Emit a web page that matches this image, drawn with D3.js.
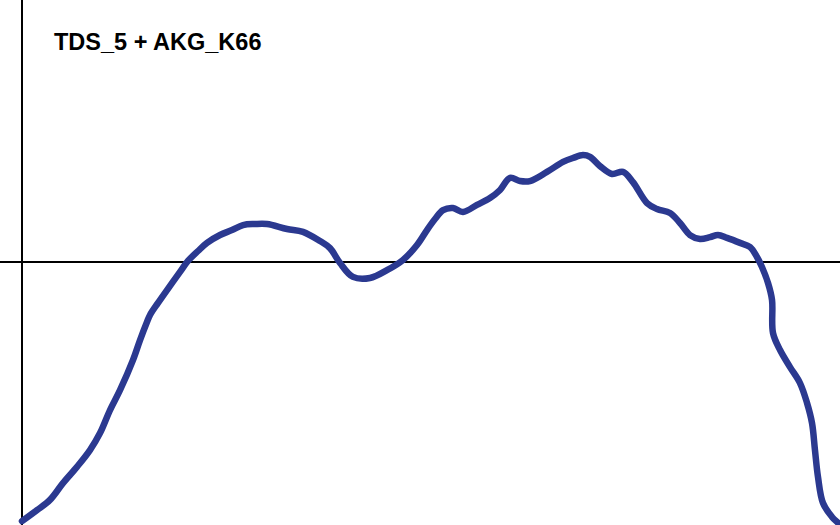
<!DOCTYPE html>
<html>
<head>
<meta charset="utf-8">
<script src="https://cdn.jsdelivr.net/npm/d3@7"></script>
<style>
  html, body { margin: 0; padding: 0; background: #fff; }
  svg { display: block; }
</style>
</head>
<body>
<svg id="chart" width="840" height="525"></svg>
<script>
// chart title
var title = "TDS_5 + AKG_K66";

// x position (percent of span)
var xs = [0, 1.83, 3.42, 5.01, 6.72, 8.31, 9.54, 10.76, 11.98, 13.57,
          14.43, 15.28, 15.65, 16.63, 17.73, 19.32, 20.29, 21.52, 22.62, 24.21,
          25.67, 27.02, 28.48, 29.95, 32.4, 34.35, 36.43, 37.65, 38.88, 40.46,
          42.54, 44.62, 46.58, 48.29, 49.51, 50.49, 51.47, 52.69, 53.91, 55.62,
          57.21, 58.44, 59.66, 60.88, 62.1, 64.18, 66.14, 67.36, 68.58, 69.44,
          70.66, 72.13, 73.47, 74.69, 76.41, 77.63, 79.22, 80.44, 81.66, 82.89,
          84.11, 85.09, 86.19, 87.78, 89.0, 89.85, 90.46, 91.2, 91.69, 91.81,
          92.67, 93.89, 95.11, 95.97, 96.58, 96.94, 97.31, 97.92, 99.02, 99.76,
          100.24];

// response level relative to the reference line
var levels = [-9.89, -9.47, -9.08, -8.44, -7.82, -7.18, -6.53, -5.65, -4.89, -3.74,
              -2.98, -2.29, -2.02, -1.56, -1.07, -0.38, 0.04, 0.42, 0.73, 1.03,
              1.22, 1.41, 1.45, 1.45, 1.26, 1.15, 0.8, 0.53, -0.04, -0.57,
              -0.61, -0.31, 0.08, 0.65, 1.22, 1.64, 1.98, 2.06, 1.91, 2.18,
              2.44, 2.75, 3.21, 3.09, 3.09, 3.44, 3.82, 3.97, 4.08, 4.01,
              3.66, 3.36, 3.44, 3.05, 2.25, 2.02, 1.87, 1.49, 1.03, 0.88,
              0.95, 1.03, 0.92, 0.73, 0.57, 0.19, -0.19, -0.8, -1.45, -2.71,
              -3.36, -4.01, -4.62, -5.38, -6.15, -7.18, -8.21, -9.2, -9.73, -9.96,
              -10.11];

var svg = d3.select("#chart");

var x = d3.scaleLinear().domain([0, 100]).range([22, 840]);
var y = d3.scaleLinear().domain([-10, 10]).range([524, 0]);

// vertical axis
svg.append("line")
    .attr("x1", x(0)).attr("x2", x(0))
    .attr("y1", 0).attr("y2", 525)
    .attr("stroke", "#000")
    .attr("stroke-width", 2);

// zero line
svg.append("line")
    .attr("x1", 0).attr("x2", 840)
    .attr("y1", y(0)).attr("y2", y(0))
    .attr("stroke", "#000")
    .attr("stroke-width", 2);

var pts = xs.map(function (d, i) { return [d, levels[i]]; });

var line = d3.line()
    .x(function (d) { return x(d[0]); })
    .y(function (d) { return y(d[1]); })
    .curve(d3.curveCatmullRom.alpha(0.5));

svg.append("path")
    .datum(pts)
    .attr("d", line)
    .attr("fill", "none")
    .attr("stroke", "#2b3990")
    .attr("stroke-width", 6.5)
    .attr("stroke-linejoin", "round")
    .attr("stroke-linecap", "round");

svg.append("text")
    .attr("x", 54)
    .attr("y", 50)
    .attr("font-family", "'Liberation Sans', Arial, sans-serif")
    .attr("font-weight", "bold")
    .attr("font-size", 23.5)
    .attr("fill", "#000")
    .text(title);
</script>
</body>
</html>
